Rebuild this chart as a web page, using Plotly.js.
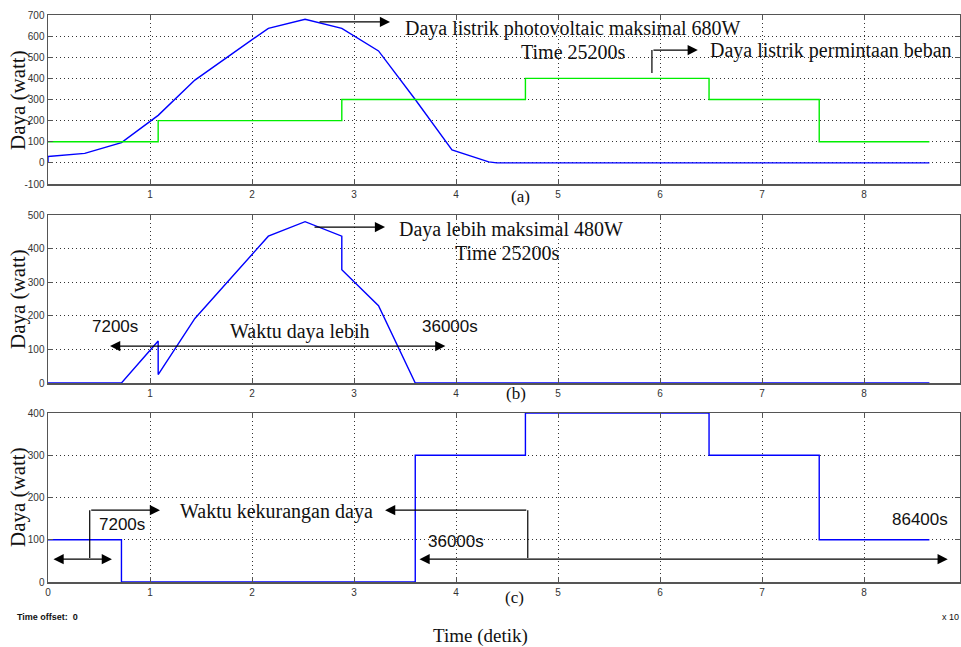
<!DOCTYPE html>
<html><head><meta charset="utf-8">
<script src="https://cdn.plot.ly/plotly-3.0.1.min.js"></script>
<style>html,body{margin:0;padding:0;background:#fff;}#chart{width:961px;height:647px;}</style>
</head><body><div id="chart"></div>
<script>
// Time axis in units of 10^4 s
const pvTime   = [0, 0, 0.36, 0.72, 1.08, 1.44, 1.80, 2.16, 2.52, 2.88, 3.24, 3.60, 3.96, 4.32, 4.40, 8.64];
const pvPower  = [0, 30, 45, 96, 225, 392, 515, 637, 680, 637, 530, 300, 61, 5, 0, 0];
const loadTime  = [0, 1.08, 2.88, 4.68, 6.48, 7.56, 8.64];
const loadPower = [100, 200, 300, 400, 300, 100, 100];
const surplusTime  = [0, 0.72, 1.08, 1.08, 1.44, 1.80, 2.16, 2.52, 2.88, 2.88, 3.24, 3.60, 8.64];
const surplusPower = [0, 0, 125, 25, 192, 315, 437, 480, 437, 337, 230, 0, 0];
const deficitTime  = [0, 0.72, 3.60, 4.68, 6.48, 7.56, 8.64];
const deficitPower = [100, 0, 300, 400, 300, 100, 100];
const xTicksAB = [1, 2, 3, 4, 5, 6, 7, 8];
const xTicksC  = [0, 1, 2, 3, 4, 5, 6, 7, 8];
const yTicksA = [-100, 0, 100, 200, 300, 400, 500, 600, 700];
const yTicksB = [0, 100, 200, 300, 400, 500];
const yTicksC = [0, 100, 200, 300, 400];

const W = 961, H = 647;
const px = v => v / W, py = v => 1 - v / H;

const blue = '#0000ff', green = '#00ee00';
const traces = [
  {x: pvTime, y: pvPower, xaxis: 'x', yaxis: 'y', mode: 'lines', line: {color: blue, width: 1.4}},
  {x: loadTime, y: loadPower, xaxis: 'x', yaxis: 'y', mode: 'lines', line: {color: green, width: 1.4, shape: 'hv'}},
  {x: surplusTime, y: surplusPower, xaxis: 'x2', yaxis: 'y2', mode: 'lines', line: {color: blue, width: 1.4}},
  {x: deficitTime, y: deficitPower, xaxis: 'x3', yaxis: 'y3', mode: 'lines', line: {color: blue, width: 1.4, shape: 'hv'}}
];

const tickFont = {family: 'Arial, Liberation Sans, sans-serif', size: 10, color: '#333'};
const gridStyle = {showgrid: true, gridcolor: '#333', griddash: '1px,3px', gridwidth: 1, zeroline: false,
  showline: true, linecolor: '#555', linewidth: 1.5, mirror: 'ticks', ticks: 'inside', ticklen: 5, tickcolor: '#555',
  tickfont: tickFont, fixedrange: true};
function xax(anchor, vals) {
  return Object.assign({domain: [px(48), px(960)], anchor: anchor, range: [0, 8.94], tickvals: vals, ticktext: vals.map(String)}, gridStyle);
}
function yax(anchor, top, bottom, range, vals) {
  return Object.assign({domain: [py(bottom), py(top)], anchor: anchor, range: range, tickvals: vals, ticktext: vals.map(String)}, gridStyle);
}

const serif = {family: 'Liberation Serif, Times New Roman, serif', size: 20, color: '#111'};
const sans = {family: 'Liberation Sans, Arial, sans-serif', size: 17, color: '#111'};

function txt(xr, yr, x, y, text, font, xanchor) {
  return {xref: xr, yref: yr, x: x, y: y, text: text, font: font, showarrow: false, xanchor: xanchor || 'left', yanchor: 'middle'};
}
function arrow(xr, yr, ax, ay, x, y, both) {
  return {xref: xr, yref: yr, axref: xr, ayref: yr, x: x, y: y, ax: ax, ay: ay, text: '', showarrow: true,
    arrowhead: 2, arrowsize: 1.7, arrowwidth: 1.2, arrowcolor: '#000', standoff: 0, startstandoff: 0,
    arrowside: both ? 'end+start' : 'end', startarrowhead: 2, startarrowsize: 1.7};
}

const annotations = [
  // subplot (a)
  arrow('x', 'y', 2.647, 667, 3.353, 667),
  txt('x', 'y', 3.48, 638, 'Daya listrik photovoltaic maksimal 680W', serif),
  txt('x', 'y', 4.62, 525, 'Time 25200s', serif),
  arrow('x', 'y', 5.92, 534, 6.37, 534),
  txt('x', 'y', 6.47, 530, 'Daya listrik permintaan beban', serif),
  // subplot (b)
  arrow('x2', 'y2', 2.598, 464, 3.304, 464),
  txt('x2', 'y2', 3.42, 458, 'Daya lebih maksimal 480W', serif),
  txt('x2', 'y2', 5.04, 387, 'Time 25200s', serif, 'right'),
  txt('x2', 'y2', 0.41, 167, '7200s', sans),
  txt('x2', 'y2', 1.765, 152, 'Waktu daya lebih', serif),
  txt('x2', 'y2', 3.647, 167, '36000s', sans),
  arrow('x2', 'y2', 3.91, 110, 0.608, 110, true),
  // subplot (c)
  arrow('x3', 'y3', 0.409, 170, 1.098, 170),
  txt('x3', 'y3', 0.48, 137, '7200s', sans),
  arrow('x3', 'y3', 0.039, 54, 0.627, 54, true),
  txt('x3', 'y3', 1.275, 168, 'Waktu kekurangan daya', serif),
  arrow('x3', 'y3', 4.703, 170, 3.304, 170),
  txt('x3', 'y3', 3.706, 95, '36000s', sans),
  arrow('x3', 'y3', 3.627, 54, 8.82, 54, true),
  txt('x3', 'y3', 8.255, 149, '86400s', sans),
  // panel labels and titles
  txt('paper', 'paper', px(520), py(196), '(a)', {family: serif.family, size: 17, color: '#111'}, 'center'),
  txt('paper', 'paper', px(516), py(393), '(b)', {family: serif.family, size: 17, color: '#111'}, 'center'),
  txt('paper', 'paper', px(514), py(597), '(c)', {family: serif.family, size: 17, color: '#111'}, 'center'),
  txt('paper', 'paper', px(480), py(636), 'Time (detik)', {family: serif.family, size: 19, color: '#111'}, 'center'),
  txt('paper', 'paper', px(15), py(617), '<b>Time offset:  0</b>', {family: 'Liberation Sans, Arial', size: 9, color: '#111'}),
  txt('paper', 'paper', px(961), py(617), 'x 10', {family: 'Liberation Sans, Arial', size: 9, color: '#111'}, 'right')
];
const yTitleCenters = [100, 299, 497];
yTitleCenters.forEach(c => annotations.push({xref: 'paper', yref: 'paper', x: px(18), y: py(c), text: 'Daya (watt)',
  textangle: -90, showarrow: false, xanchor: 'center', yanchor: 'middle', font: {family: serif.family, size: 21, color: '#111'}}));

const shapes = [
  {type: 'line', xref: 'x', yref: 'y', x0: 5.92, x1: 5.92, y0: 425, y1: 534, line: {color: '#000', width: 1.2}},
  {type: 'line', xref: 'x3', yref: 'y3', x0: 0.409, x1: 0.409, y0: 57, y1: 170, line: {color: '#000', width: 1.2}},
  {type: 'line', xref: 'x3', yref: 'y3', x0: 4.703, x1: 4.703, y0: 57, y1: 170, line: {color: '#000', width: 1.2}}
];

const layout = {
  width: W, height: H, margin: {l: 0, r: 0, t: 0, b: 0}, showlegend: false,
  paper_bgcolor: '#fff', plot_bgcolor: '#fff',
  xaxis: xax('y', xTicksAB), yaxis: yax('x', 15, 184, [-100, 700], yTicksA),
  xaxis2: xax('y2', xTicksAB), yaxis2: yax('x2', 215, 383, [0, 500], yTicksB),
  xaxis3: xax('y3', xTicksC), yaxis3: yax('x3', 413, 582, [0, 400], yTicksC),
  annotations: annotations, shapes: shapes
};
Plotly.newPlot('chart', traces, layout, {staticPlot: true, displayModeBar: false});
</script></body></html>
